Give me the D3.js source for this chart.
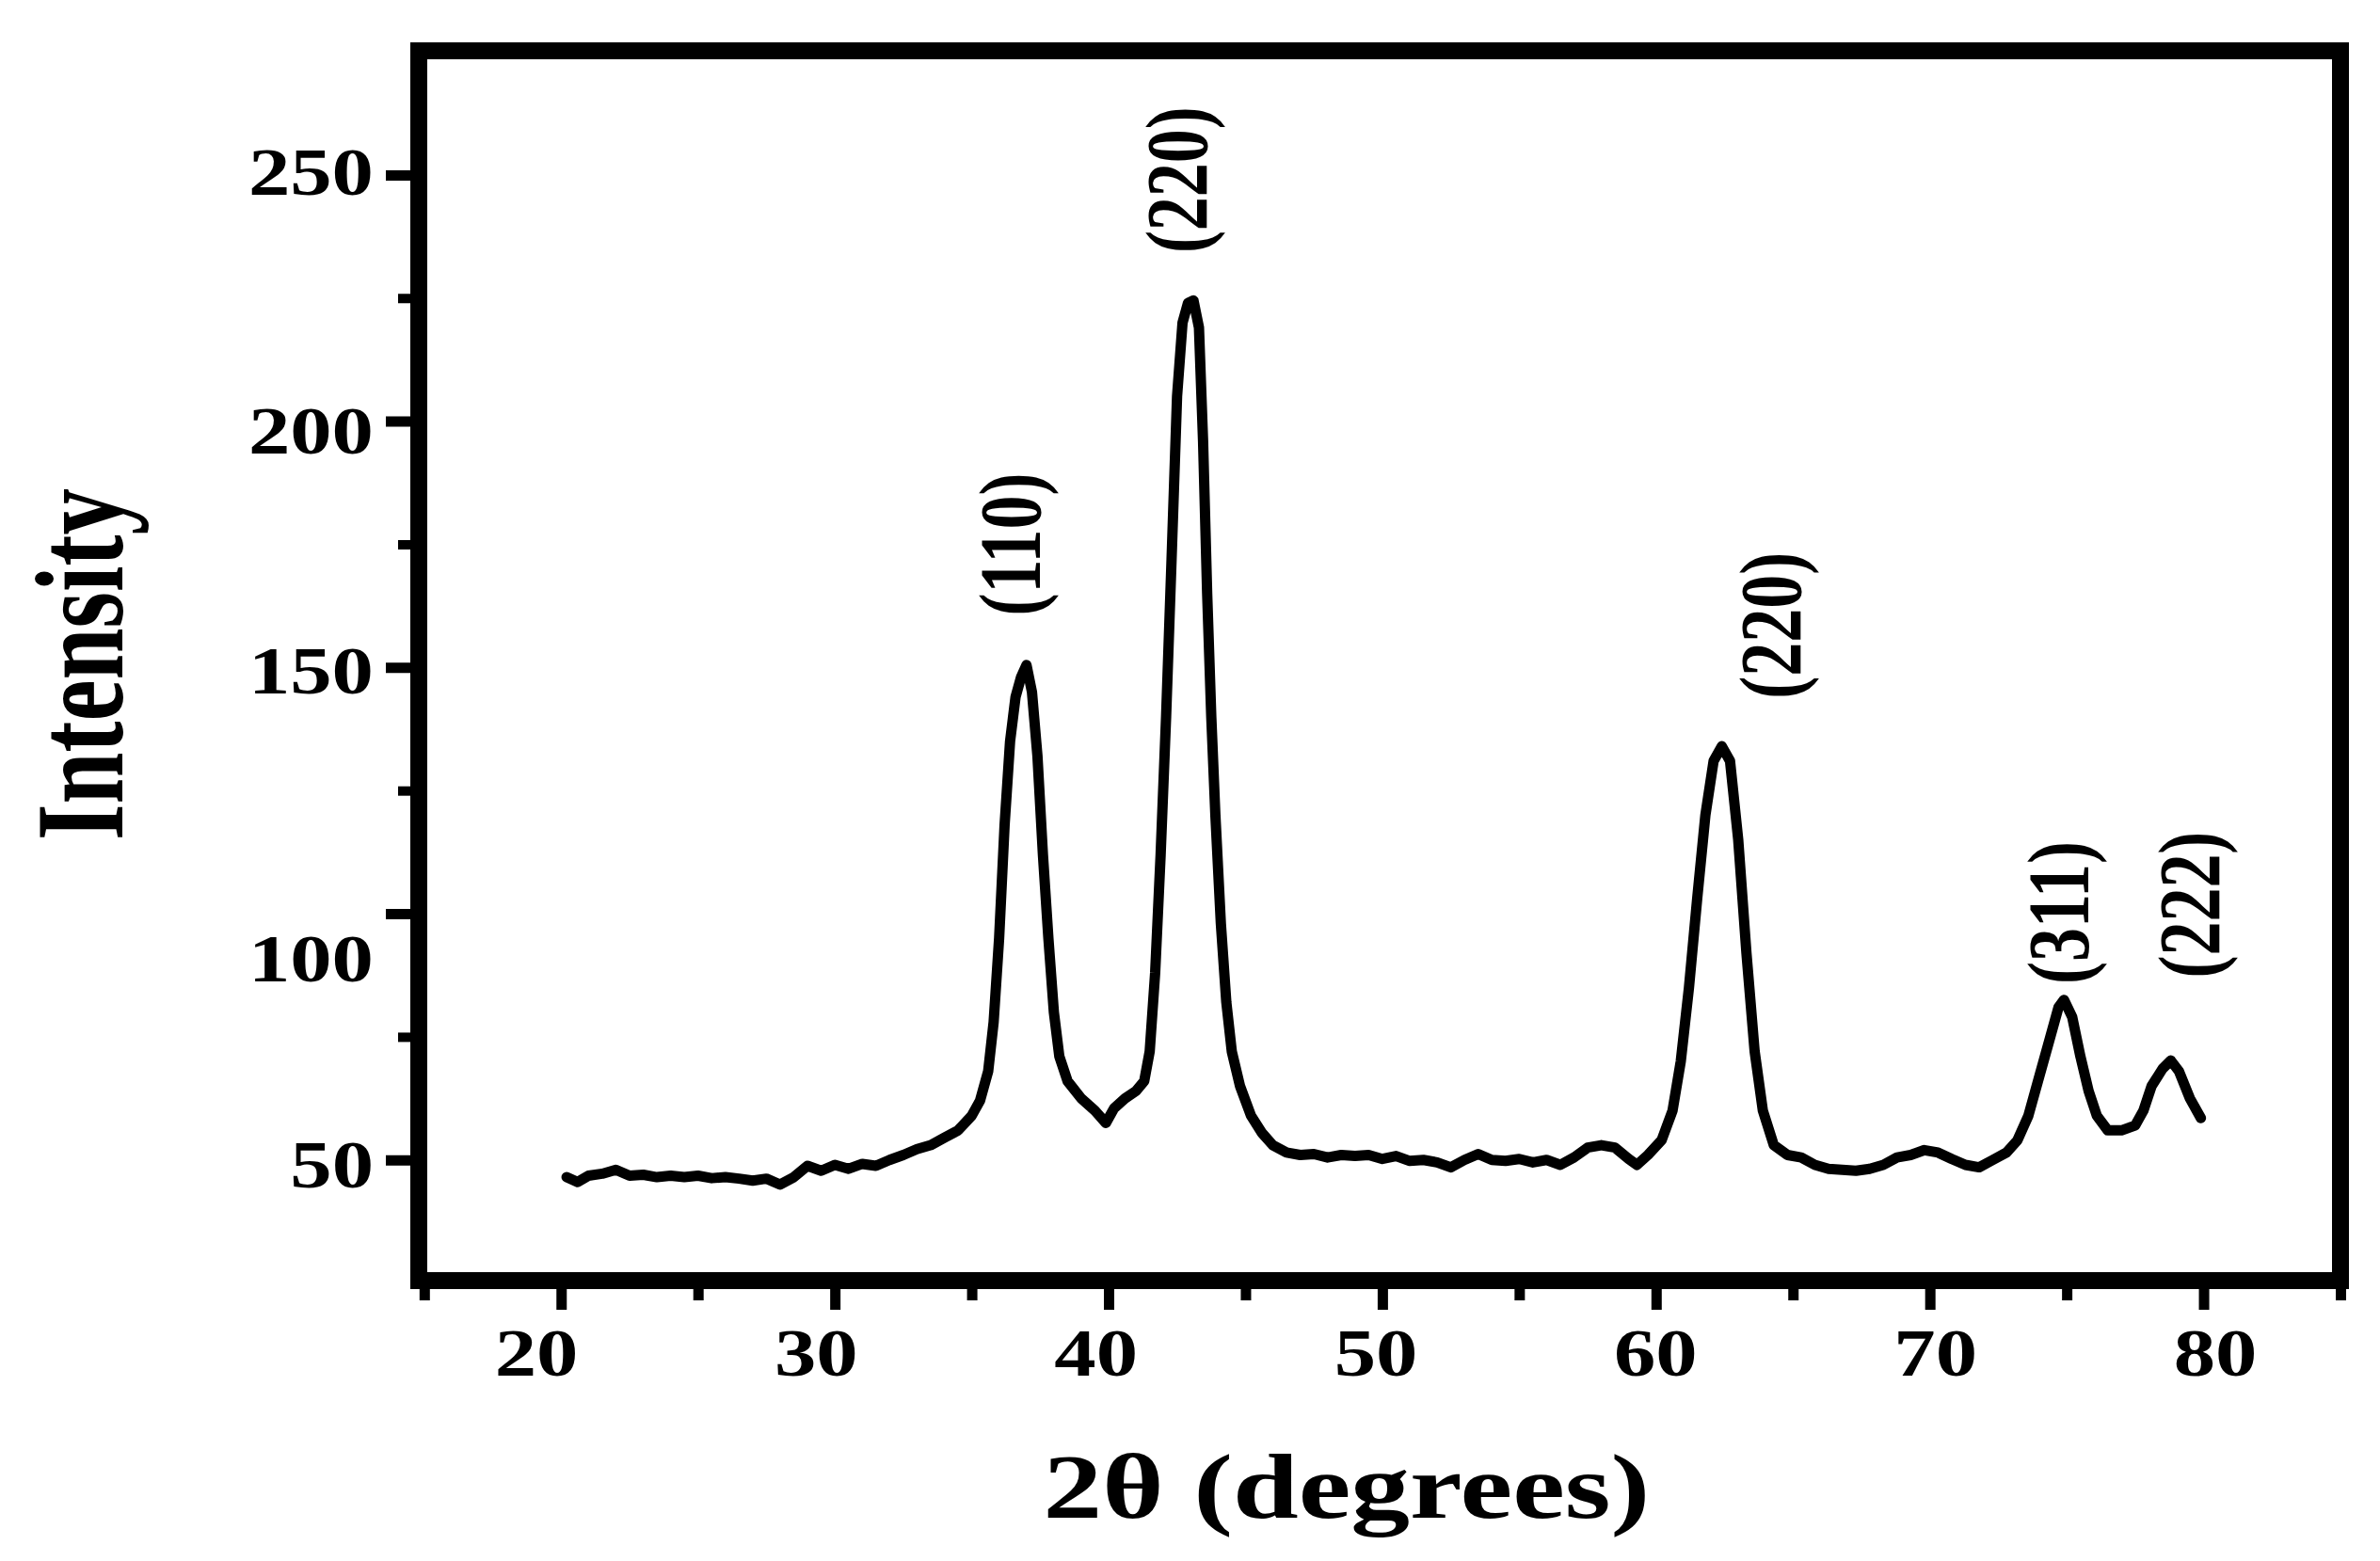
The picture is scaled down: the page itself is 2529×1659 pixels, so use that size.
<!DOCTYPE html>
<html>
<head>
<meta charset="utf-8">
<script src="https://cdn.jsdelivr.net/npm/d3@7"></script>
<style>
  html, body { margin: 0; padding: 0; background: #fff; }
</style>
</head>
<body>
<svg id="viz"></svg>
<script>
// XRD pattern, values
const twoTheta = [
  20.2, 20.6, 21.0, 21.5, 22.0, 22.5, 23.0, 23.5, 24.0, 24.5, 25.0, 25.5, 26.0, 26.5, 27.0, 27.5,
  28.0, 28.5, 29.0, 29.5, 30.0, 30.5, 31.0, 31.5, 32.0, 32.5, 33.0, 33.5, 34.0, 34.5, 35.0, 35.3,
  35.6, 35.8, 36.0, 36.2, 36.4, 36.6, 36.8, 37.0, 37.2, 37.4, 37.6, 37.8, 38.0, 38.2, 38.5, 39.0,
  39.5, 39.9, 40.2, 40.6, 41.0, 41.3, 41.5, 41.7, 41.9, 42.1, 42.3, 42.5, 42.7, 42.9, 43.1, 43.3,
  43.45, 43.6, 43.75, 43.9, 44.1, 44.3, 44.5, 44.8, 45.2, 45.6, 46.0, 46.5, 47.0, 47.5, 48.0, 48.5,
  49.0, 49.5, 50.0, 50.5, 51.0, 51.5, 52.0, 52.5, 53.0, 53.5, 54.0, 54.5, 55.0, 55.5, 56.0, 56.5,
  57.0, 57.5, 58.0, 58.5, 59.0, 59.3, 59.7, 60.2, 60.6, 60.9, 61.2, 61.5, 61.8, 62.1, 62.4, 62.7,
  63.0, 63.3, 63.6, 63.9, 64.3, 64.8, 65.3, 65.8, 66.3, 66.8, 67.3, 67.8, 68.3, 68.8, 69.3, 69.8,
  70.3, 70.8, 71.3, 71.8, 72.3, 72.8, 73.2, 73.6, 74.0, 74.4, 74.7, 74.9, 75.2, 75.5, 75.8, 76.1,
  76.5, 77.0, 77.5, 77.8, 78.1, 78.5, 78.8, 79.1, 79.5, 79.9
];
const intensity = [
  46.5, 45.5, 46.8, 47.2, 48.0, 46.8, 47.0, 46.5, 46.8, 46.5, 46.8, 46.3, 46.5, 46.2, 45.8, 46.2,
  45.0, 46.5, 48.8, 47.8, 49.0, 48.2, 49.2, 48.8, 50.0, 51.0, 52.2, 53.0, 54.5, 56.0, 59.0, 62.0,
  68.0, 78.0, 95.0, 118.0, 135.0, 144.0, 148.0, 150.5, 145.0, 132.0, 112.0, 95.0, 80.0, 71.0, 66.0, 62.5,
  60.0, 57.5, 60.5, 62.5, 64.0, 66.0, 72.0, 88.0, 112.0, 140.0, 172.0, 205.0, 220.0, 224.0, 224.5, 219.0,
  196.0, 165.0, 140.0, 120.0, 98.0, 82.0, 72.0, 65.0, 59.0, 55.5, 53.0, 51.5, 51.0, 51.2, 50.5, 51.0,
  50.8, 51.0, 50.2, 50.8, 49.8, 50.0, 49.5, 48.5, 50.0, 51.2, 50.0, 49.8, 50.2, 49.5, 50.0, 49.0,
  50.5, 52.5, 53.0, 52.5, 50.2, 49.0, 51.0, 54.0, 60.0, 70.0, 85.0, 103.0, 120.0, 131.0, 134.0, 131.0,
  115.0, 92.0, 72.0, 60.0, 53.0, 51.0, 50.5, 49.0, 48.2, 48.0, 47.8, 48.2, 49.0, 50.5, 51.0, 52.0,
  51.5, 50.2, 49.0, 48.5, 50.0, 51.5, 54.0, 59.0, 67.0, 75.0, 81.0, 82.5, 79.0, 71.0, 64.0, 59.0,
  56.0, 56.0, 57.0, 60.0, 65.0, 68.5, 70.2, 68.0, 62.5, 58.5
];

const xTicks = [20, 30, 40, 50, 60, 70, 80];
const xMinorTicks = [15, 25, 35, 45, 55, 65, 75, 85];
const yTicks = [50, 100, 150, 200, 250];
const yMinorTicks = [75, 125, 175, 225];

// peak (hkl) labels: text, 2θ and intensity of the label centre
const peakLabels = ["(110)", "(220)", "(220)", "(311)", "(222)"];
const peakAngle = [36.4, 42.5, 64.2, 74.7, 79.5];
const peakLevel = [175, 249, 158.5, 100.2, 101.8];

const width = 2529, height = 1659;
const serif = '"Times New Roman", "Liberation Serif", Times, serif';

const svg = d3.select("#viz")
  .attr("width", width)
  .attr("height", height);

const x = d3.scaleLinear().domain([14.8, 85]).range([445, 2487]);
const y = d3.scaleLinear().domain([25.5, 275.2]).range([1361, 54]);

// tick labels in the figure sit a little off their ticks
const xLab = d3.scaleLinear().domain([20, 80]).range([570, 2354]);
const yLabNudge = { 250: -3, 200: 10, 150: 3, 100: 48, 50: 5 };

const ink = "#000";

// ticks
function styleTicks(g, w) {
  g.select(".domain").remove();
  g.selectAll(".tick line").attr("stroke", ink).attr("stroke-width", w);
  g.selectAll(".tick text").remove();
}

svg.append("g")
  .attr("transform", `translate(0,${y.range()[0]})`)
  .call(d3.axisBottom(x).tickValues(xTicks).tickSize(31))
  .call(g => styleTicks(g, 11));

svg.append("g")
  .attr("transform", `translate(0,${y.range()[0]})`)
  .call(d3.axisBottom(x).tickValues(xMinorTicks).tickSize(21))
  .call(g => styleTicks(g, 11));

svg.append("g")
  .attr("transform", `translate(${x.range()[0]},0)`)
  .call(d3.axisLeft(y).tickValues(yTicks).tickSize(35))
  .call(g => styleTicks(g, 11));

svg.append("g")
  .attr("transform", `translate(${x.range()[0]},0)`)
  .call(d3.axisLeft(y).tickValues(yMinorTicks).tickSize(22))
  .call(g => styleTicks(g, 10));

// frame
svg.append("rect")
  .attr("x", x.range()[0])
  .attr("y", y.range()[1])
  .attr("width", x.range()[1] - x.range()[0])
  .attr("height", y.range()[0] - y.range()[1])
  .attr("fill", "none")
  .attr("stroke", ink)
  .attr("stroke-width", 18);

const txt = sel => sel
  .attr("font-family", serif)
  .attr("font-weight", "bold")
  .attr("fill", ink);

// tick labels
svg.append("g").selectAll("text")
  .data(xTicks)
  .join("text")
  .call(txt)
  .attr("text-anchor", "middle")
  .attr("font-size", 71)
  .attr("transform", d => `translate(${xLab(d)},1462) scale(1.25,1)`)
  .text(d => d);

svg.append("g").selectAll("text")
  .data(yTicks)
  .join("text")
  .call(txt)
  .attr("text-anchor", "end")
  .attr("dominant-baseline", "central")
  .attr("font-size", 71)
  .attr("transform", d => `translate(397,${y(d) + (yLabNudge[d] || 0)}) scale(1.25,1)`)
  .text(d => d);

// axis titles
svg.append("text")
  .call(txt)
  .attr("text-anchor", "middle")
  .attr("font-size", 98)
  .attr("transform", "translate(1431,1613) scale(1.28,1)")
  .text("2θ (degrees)");

svg.append("text")
  .call(txt)
  .attr("text-anchor", "middle")
  .attr("font-size", 99)
  .attr("transform", "translate(130,706) rotate(-90) scale(1,1.35)")
  .text("Intensity");

// the pattern
const pts = twoTheta.map((t, i) => [t, intensity[i]]);
const line = d3.line().x(d => x(d[0])).y(d => y(d[1]));

svg.append("path")
  .datum(pts)
  .attr("d", line)
  .attr("fill", "none")
  .attr("stroke", ink)
  .attr("stroke-width", 11)
  .attr("stroke-linejoin", "round")
  .attr("stroke-linecap", "round");

// peak labels
svg.append("g").selectAll("text")
  .data(peakLabels)
  .join("text")
  .call(txt)
  .attr("text-anchor", "middle")
  .attr("dominant-baseline", "central")
  .attr("font-size", 72)
  .attr("transform", (d, i) => `translate(${x(peakAngle[i])},${y(peakLevel[i])}) scale(1.28,1) rotate(-90)`)
  .text(d => d);
</script>
</body>
</html>
